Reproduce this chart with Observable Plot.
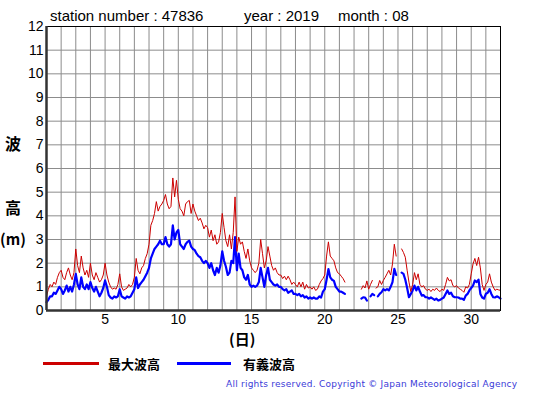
<!DOCTYPE html>
<html>
<head>
<meta charset="utf-8">
<script src="https://cdn.jsdelivr.net/npm/d3@7"></script>
<script src="https://cdn.jsdelivr.net/npm/@observablehq/plot@0.6"></script>
<style>
  html, body { margin: 0; padding: 0; background: #fff; }
  #wrap { position: relative; width: 555px; height: 395px; overflow: hidden; background: #fff; }
  #chart { position: absolute; left: 0; top: 0; }
  .t { position: absolute; white-space: nowrap; line-height: 1; transform: translateY(-50%); color: #000; }
  .title { font-family: 'Liberation Sans', Arial, sans-serif; font-size: 15px; }
  .jp { font-family: 'Noto Sans CJK JP', sans-serif; }
  .sw { position: absolute; height: 3px; }
</style>
</head>
<body>
<div id="wrap">
  <div id="chart"></div>
  <div class="t title" style="left:50px;top:15px">station number : 47836</div>
  <div class="t title" style="left:244px;top:15px">year : 2019</div>
  <div class="t title" style="left:338px;top:15px">month : 08</div>
  <div class="t jp" style="left:5px;top:143px;font-size:16px;font-weight:bold">波</div>
  <div class="t jp" style="left:5px;top:207px;font-size:16px;font-weight:bold">高</div>
  <div class="t jp" style="left:0px;top:238px;font-size:15px;font-weight:bold">(m)</div>
  <div class="t jp" style="left:229px;top:338px;font-size:15px;font-weight:bold">(日)</div>
  <div class="sw" style="left:43px;top:362px;width:56px;background:#cc0000"></div>
  <div class="t jp" style="left:108px;top:363px;font-size:13px;font-weight:bold">最大波高</div>
  <div class="sw" style="left:177px;top:362px;width:54px;background:#0000ff"></div>
  <div class="t jp" style="left:243px;top:363px;font-size:13px;font-weight:bold">有義波高</div>
  <div class="t" style="left:226px;top:384px;font-family:'DejaVu Sans',sans-serif;font-size:9px;letter-spacing:0.24px;color:#3a3ad8">All rights reserved. Copyright © Japan Meteorological Agency</div>
</div>
<script>
// 3-hourly observations, 8 per day (00,03,...,21h), day 1 .. day 31, plus end point
const maxWave = [
  0.6, 0.9, 1.1, 1.0, 1.2, 1.1, 1.4, 1.6,
  1.7, 1.4, 1.3, 1.6, 1.8, 1.5, 1.3, 1.6,
  2.6, 1.9, 1.6, 2.3, 1.8, 1.5, 1.7, 1.4,
  2.0, 1.5, 1.3, 1.6, 1.4, 1.2, 1.3, 1.5,
  2.0, 1.5, 1.2, 1.0, 0.9, 0.95, 0.9, 1.1,
  1.55, 1.0, 0.85, 0.9, 0.95, 1.1, 1.0, 1.1,
  1.4, 2.2, 1.7, 1.55, 1.8, 1.9, 2.2, 2.4,
  2.8, 3.6, 3.8, 4.1, 4.6, 4.2, 4.4, 4.5,
  4.65, 4.9, 4.5, 4.3, 4.4, 5.6, 4.8, 5.5,
  4.7, 4.3, 4.2, 4.0, 4.5, 4.6, 4.65, 4.1,
  4.5, 4.2, 4.0, 3.8, 3.9, 3.7, 3.45, 3.6,
  3.5, 3.1, 3.4, 2.95, 3.2, 2.8, 2.9, 3.3,
  4.1, 3.5, 2.95, 2.7, 3.2, 2.6, 3.3, 4.8,
  2.5, 3.1, 2.8, 2.9, 2.5, 2.2, 2.6, 2.1,
  1.8, 1.7, 1.6, 1.7, 2.0, 3.0, 2.4, 1.8,
  2.1, 2.7, 2.3, 1.9, 1.7, 1.8, 1.6, 1.5,
  1.5, 1.35, 1.45, 1.3, 1.45, 1.3, 1.1, 1.2,
  1.1, 1.0, 1.2, 1.0, 1.2, 0.9, 1.1, 0.95,
  1.0, 0.9, 1.0, 0.85, 0.9, 1.1, 1.25, 1.35,
  1.5, 2.3, 2.9, 2.3, 2.2, 2.1, 1.8, 1.6,
  1.55, 1.45, 1.35, 1.2, null, null, null, null,
  null, null, null, null, 0.9, 1.05, 0.95, 1.25,
  0.9, 1.1, 1.27, null, 0.95, 1.0, 1.27, 1.1,
  1.27, 1.4, 1.55, 1.7, 1.5, 1.97, 2.8, 2.3,
  null, null, 2.6, 2.45, 2.25, 1.7, 1.2, 0.8,
  1.1, 1.6, 1.3, 1.55, 1.1, 1.0, 1.05, 0.9,
  0.85, 0.9, 0.8, 0.9, 0.85, 0.95, 0.85, 0.8,
  0.9, 0.85, 1.1, 1.4, 1.25, 1.3, 1.05, 1.0,
  1.05, 0.95, 0.9, 0.85, 0.77, 1.0, 0.95, 1.1,
  1.55, 1.97, 2.2, 1.9, 2.25, 1.8, 1.1, 0.85,
  1.1, 1.2, 1.55, 1.2, 1.0, 0.85, 0.9, 0.87,
  0.85
];
const sigWave = [
  0.35, 0.45, 0.6, 0.6, 0.75, 0.7, 0.85, 1.0,
  0.9, 0.7, 0.85, 1.05, 0.8, 1.0, 0.8, 1.1,
  1.55, 1.1, 0.9, 1.4, 1.0, 0.9, 1.1, 0.9,
  1.2, 0.95, 0.8, 1.0, 0.8, 0.6, 0.75, 0.95,
  1.27, 1.0, 0.65, 0.55, 0.5, 0.6, 0.55, 0.6,
  0.9, 0.6, 0.55, 0.5, 0.6, 0.55, 0.6, 0.75,
  0.9, 1.4, 0.95, 1.1, 1.2, 1.3, 1.45, 1.6,
  1.8, 2.2, 2.4, 2.6, 2.7, 2.8, 2.95, 2.8,
  2.8, 3.1, 2.8, 2.7, 2.8, 3.6, 3.0, 3.3,
  3.4, 2.8, 2.7, 2.6, 2.8, 2.9, 2.95, 2.7,
  2.6, 2.55, 2.4, 2.3, 2.25, 2.1, 2.0, 2.1,
  2.0, 1.8, 2.0, 1.7, 1.5, 1.8, 1.6, 1.9,
  2.5, 2.1, 1.85, 1.5, 1.6, 2.1, 2.0, 3.1,
  1.7, 2.4, 1.8, 1.7, 1.4, 1.3, 1.5, 1.1,
  1.0, 1.05, 1.0, 1.05, 1.2, 1.8, 1.4, 1.0,
  1.5, 1.8, 1.3, 1.2, 1.1, 1.05, 1.1, 1.0,
  1.0, 0.9, 0.85, 0.9, 0.75, 0.8, 0.85, 0.7,
  0.7, 0.65, 0.7, 0.6, 0.65, 0.55, 0.6, 0.5,
  0.55, 0.5, 0.55, 0.5, 0.5, 0.6, 0.55, 0.8,
  0.9, 1.3, 1.75, 1.4, 1.3, 1.25, 1.0, 0.9,
  0.8, 0.8, 0.75, 0.7, null, null, null, null,
  null, null, null, null, 0.5, 0.56, 0.55, 0.42,
  null, 0.6, 0.7, 0.65, null, 0.6, 0.7, 0.77,
  0.9, 0.85, 0.9, 0.85, 1.0, 1.2, 1.76, 1.5,
  null, null, 1.6, 1.55, 1.3, 0.95, 0.56, 0.7,
  0.85, 1.05, 0.85, 1.0, 0.8, 0.63, 0.65, 0.56,
  0.56, 0.5, 0.55, 0.5, 0.45, 0.5, 0.42, 0.45,
  0.5, 0.55, 0.7, 0.85, 0.7, 0.75, 0.6, 0.56,
  0.56, 0.55, 0.5, 0.5, 0.45, 0.63, 0.7, 0.85,
  0.95, 1.05, 1.27, 1.2, 1.3, 0.7, 0.55, 0.5,
  0.7, 0.75, 0.9, 0.7, 0.56, 0.55, 0.6, 0.56,
  0.5
];
const xTicks = [5, 10, 15, 20, 25, 30];
const yTicks = [0, 1, 2, 3, 4, 5, 6, 7, 8, 9, 10, 11, 12];
const dayLines = [1, 2, 3, 4, 5, 6, 7, 8, 9, 10, 11, 12, 13, 14, 15, 16, 17, 18, 19, 20, 21, 22, 23, 24, 25, 26, 27, 28, 29, 30, 31, 32];
const stepsPerDay = 8;

const data = maxWave.map((v, i) => ({ t: 1 + i / stepsPerDay, max: v, sig: sigWave[i] }));

const chart = Plot.plot({
  width: 555,
  height: 345,
  marginLeft: 46,
  marginRight: 55,
  marginTop: 26,
  marginBottom: 35,
  style: { fontFamily: "'Liberation Sans', Arial, sans-serif", fontSize: "14px", color: "#000", background: "transparent" },
  x: { domain: [1, 32], ticks: xTicks, tickSize: 0, tickPadding: 4, label: null },
  y: { domain: [0, 12], ticks: yTicks, tickSize: 0, tickPadding: 3, label: null },
  marks: [
    Plot.ruleX(dayLines, { stroke: "#8c8c8c", strokeWidth: 1 }),
    Plot.ruleY(yTicks, { stroke: "#8c8c8c", strokeWidth: 1 }),
    Plot.line(data, { x: "t", y: "sig", stroke: "#0000ff", strokeWidth: 2.2 }),
    Plot.line(data, { x: "t", y: "max", stroke: "#cc0000", strokeWidth: 1 }),
    Plot.frame({ stroke: "#000", strokeWidth: 1 }),
    Plot.ruleX([1], { stroke: "#333", strokeWidth: 2.5 }),
    Plot.ruleY([0], { stroke: "#333", strokeWidth: 2.5 })
  ]
});
document.getElementById("chart").appendChild(chart);
</script>
</body>
</html>
